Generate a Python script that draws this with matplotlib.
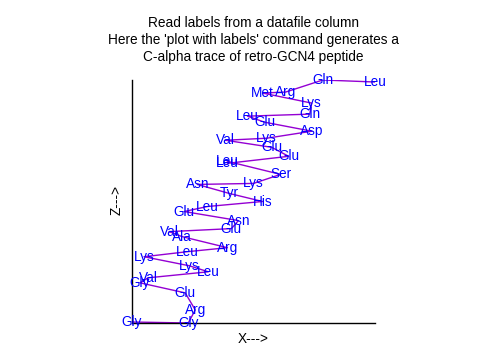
import matplotlib
matplotlib.use("Agg")
import matplotlib.pyplot as plt

residues = ["Gly", "Gly", "Arg", "Glu", "Gly", "Val", "Leu", "Lys", "Lys", "Leu",
            "Arg", "Ala", "Val", "Glu", "Asn", "Glu", "Leu", "His", "Tyr", "Asn",
            "Lys", "Ser", "Leu", "Leu", "Glu", "Glu", "Val", "Lys", "Asp", "Glu",
            "Leu", "Gln", "Lys", "Met", "Arg", "Gln", "Leu"]
x_vals = [0.0, 5.6, 6.3, 5.3, 0.8, 1.6, 7.6, 5.7, 1.2, 5.5,
          9.5, 5.0, 3.7, 9.9, 10.6, 5.2, 7.5, 13.0, 9.7, 6.5,
          12.1, 14.8, 9.5, 9.5, 15.6, 13.9, 9.3, 13.4, 17.9, 13.2,
          11.5, 17.7, 17.9, 13.0, 15.3, 19.0, 24.2]
z_vals = [0.2, 0.1, 1.4, 3.1, 4.1, 4.6, 5.2, 5.8, 6.7, 7.2,
          7.6, 8.7, 9.2, 9.5, 10.3, 11.2, 11.7, 12.2, 13.0, 13.9,
          14.0, 14.9, 16.2, 16.0, 16.7, 17.6, 18.3, 18.5, 19.2, 20.1,
          20.7, 20.9, 22.0, 23.0, 23.1, 24.3, 24.1]

title = ("Read labels from a datafile column\n"
         "Here the 'plot with labels' command generates a\n"
         "C-alpha trace of retro-GCN4 peptide")

plt.rcParams['font.family'] = ['Liberation Sans', 'DejaVu Sans']
FS = 9.8

fig = plt.figure(figsize=(5, 3.5), dpi=100)
ax = fig.add_axes([132/500, 1 - 323/350, (375-132)/500, (323-80)/350])

ax.plot(x_vals, z_vals, color="#9400D3", lw=1.0, solid_joinstyle="round")
for lab, xv, zv in zip(residues, x_vals, z_vals):
    ax.text(xv, zv, lab, color="#0000FF", fontsize=FS, ha="center", va="center",
            clip_on=False)

ax.set_xlim(min(x_vals), max(x_vals))
ax.set_ylim(min(z_vals), max(z_vals))
ax.set_xticks([])
ax.set_yticks([])
for s in ["top", "right"]:
    ax.spines[s].set_visible(False)
for s in ["left", "bottom"]:
    ax.spines[s].set_color("black")
    ax.spines[s].set_linewidth(1.0)

fig.text(253.5/500, 1 - 40/350, title, ha="center", va="center", fontsize=FS,
         linespacing=1.28, color="black")
fig.text(253/500, 1 - 339/350, "X--->", ha="center", va="center", fontsize=FS)
fig.text(117/500, 1 - 200/350, "Z--->", ha="center", va="center", fontsize=FS,
         rotation=90)

fig.savefig("out.png", dpi=100)
